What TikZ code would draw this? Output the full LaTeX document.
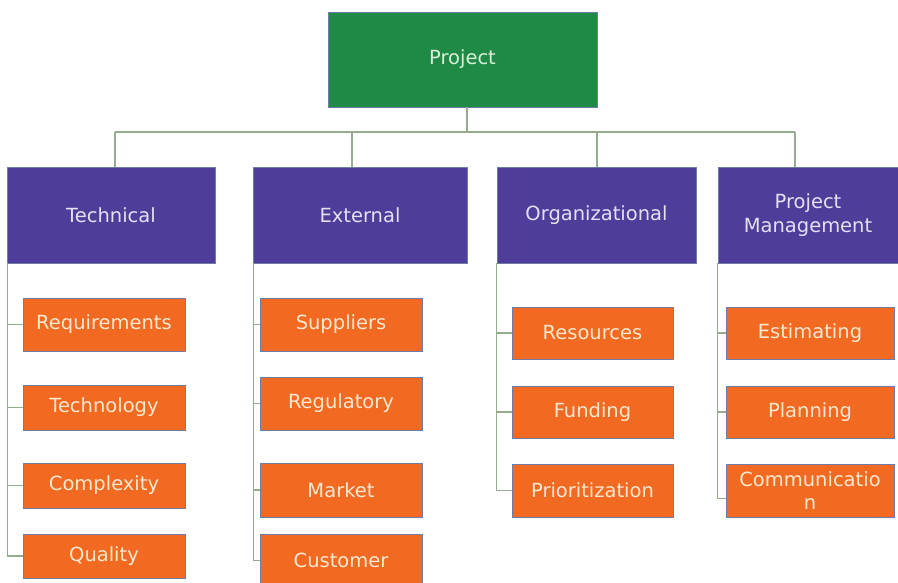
\documentclass[tikz,border=0pt]{standalone}
\usepackage{fontspec}
\setmainfont{DejaVu Sans}
\definecolor{projgreen}{HTML}{1E8A46}
\definecolor{catpurple}{HTML}{4F3D99}
\definecolor{itemorange}{HTML}{F26A22}
\definecolor{boxedge}{HTML}{6F7CA8}
\definecolor{wire}{HTML}{96AC90}
\definecolor{txtgreen}{HTML}{DCEFD6}
\definecolor{txtpurple}{HTML}{E4E0F4}
\definecolor{txtorange}{HTML}{FCE8CF}
\begin{document}
\begin{tikzpicture}[x=1pt,y=-1pt,
  base/.style={rectangle, draw=boxedge, line width=0.7pt, inner sep=0pt, align=center,
    font=\fontsize{19.5}{23.5}\selectfont},
  top/.style={base, fill=projgreen, text=txtgreen, minimum width=269pt, minimum height=95pt},
  cat/.style={base, fill=catpurple, text=txtpurple, minimum height=96pt},
  item/.style={base, fill=itemorange, text=txtorange},
  wires/.style={draw=wire, line width=1.3pt}]
\useasboundingbox[fill=white] (0,0) rectangle (898,583);

\node[top] (proj) at (462.5,59.5) {Project};

\node[cat, minimum width=208pt] (tech) at (111,215) {Technical};
\node[cat, minimum width=214pt] (ext) at (360,215) {External};
\node[cat, minimum width=199pt] (org) at (596.5,215) {Organizational};
\node[cat, minimum width=180pt] (pm) at (808,215) {Project\\Management};

% Technical
\node[item, minimum width=162pt, minimum height=53pt] (req) at (104,324.5) {Requirements};
\node[item, minimum width=162pt, minimum height=45pt] (techno) at (104,407.5) {Technology};
\node[item, minimum width=162pt, minimum height=45pt] (cplx) at (104,485.5) {Complexity};
\node[item, minimum width=162pt, minimum height=44pt] (qual) at (104,556) {Quality};
% External
\node[item, minimum width=162pt, minimum height=53pt] (supp) at (341,324.5) {Suppliers};
\node[item, minimum width=162pt, minimum height=53pt] (regu) at (341,403.5) {Regulatory};
\node[item, minimum width=162pt, minimum height=54pt] (mkt) at (341,490) {Market};
\node[item, minimum width=162pt, minimum height=53pt] (cust) at (341,560.5) {Customer};
% Organizational
\node[item, minimum width=161pt, minimum height=52pt] (res) at (592.5,333) {Resources};
\node[item, minimum width=161pt, minimum height=52pt] (fund) at (592.5,412) {Funding};
\node[item, minimum width=161pt, minimum height=53pt] (prio) at (592.5,490.5) {Prioritization};
% Project Management
\node[item, minimum width=168pt, minimum height=52pt] (est) at (810,333) {Estimating};
\node[item, minimum width=168pt, minimum height=52pt] (plan) at (810,412) {Planning};
\node[item, minimum width=168pt, minimum height=53pt] (comm) at (810,490.5) {Communicatio\\n};

% bus
\coordinate (busT) at (115,132);
\coordinate (busE) at (352,132);
\coordinate (busO) at (597,132);
\coordinate (busP) at (795,132);
\coordinate (busC) at (467,132);
\draw[wires] (busC |- proj.south) -- (busC);
\draw[wires] (busT) -- (busP);
\draw[wires] (busT) -- (busT |- tech.north);
\draw[wires] (busE) -- (busE |- ext.north);
\draw[wires] (busO) -- (busO |- org.north);
\draw[wires] (busP) -- (busP |- pm.north);

% spines
\foreach \c in {req,techno,cplx,qual}
  \draw[wires] ([xshift=1pt]tech.south west) |- (\c.west);
\foreach \c in {supp,regu,mkt,cust}
  \draw[wires] ([xshift=0.5pt]ext.south west) |- (\c.west);
\foreach \c in {res,fund,prio}
  \draw[wires] (org.south west) |- (\c.west);
\foreach \c in {est,plan}
  \draw[wires] (pm.south west) |- (\c.west);
\draw[wires] (pm.south west) |- ([yshift=-8pt]comm.west);
\end{tikzpicture}
\end{document}
